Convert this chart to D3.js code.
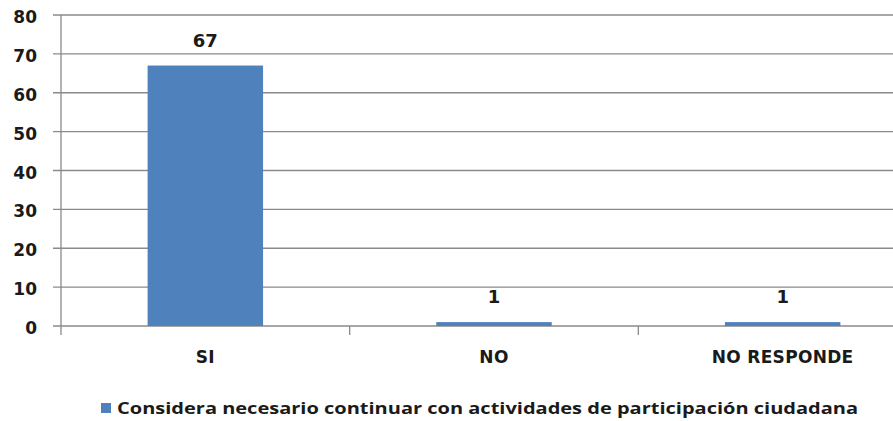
<!DOCTYPE html>
<html><head><meta charset="utf-8">
<script src="https://cdn.jsdelivr.net/npm/d3@7"></script>
<style>body{margin:0;background:#fff;overflow:hidden}</style>
</head><body>
<svg id="c" width="893" height="421"></svg>
<script>
const categories = ["SI", "NO", "NO RESPONDE"];
const values = [67, 1, 1];
const yTicks = [0, 10, 20, 30, 40, 50, 60, 70, 80];
const seriesName = "Considera necesario continuar con actividades de participación ciudadana";

const svg = d3.select("#c");
const font = "'DejaVu Sans', 'Open Sans', sans-serif";
const x = d3.scaleBand().domain(categories).range([61, 927]).paddingInner(0.6).paddingOuter(0.3);
const y = d3.scaleLinear().domain([0, 80]).range([326, 15]);
const grid = "#8a8a8a";

// gridlines
svg.append("g").selectAll("line").data(yTicks).join("line")
  .attr("x1", 53).attr("x2", 893)
  .attr("y1", d => y(d)).attr("y2", d => y(d))
  .attr("stroke", grid).attr("stroke-width", 1.3);
// y axis line
svg.append("line").attr("x1", 61).attr("x2", 61).attr("y1", 15).attr("y2", 335)
  .attr("stroke", grid).attr("stroke-width", 1.3);
// category boundary ticks
svg.append("g").selectAll("line").data(d3.range(1, categories.length + 1)).join("line")
  .attr("x1", i => 61 + i * x.step() / (1 - 0) ).attr("x2", i => 61 + i * x.step())
  .attr("y1", 326).attr("y2", 335).attr("stroke", grid).attr("stroke-width", 1.3);

// y labels
svg.append("g").selectAll("text").data(yTicks).join("text")
  .attr("x", 37).attr("y", d => y(d) + 8)
  .attr("text-anchor", "end").attr("font-family", font).attr("font-weight", "bold")
  .attr("font-size", 17).attr("fill", "#1a1a1a").text(d => d);

// bars
svg.append("g").selectAll("rect").data(values).join("rect")
  .attr("x", (d, i) => x(categories[i])).attr("width", x.bandwidth())
  .attr("y", d => y(d)).attr("height", d => y(0) - y(d))
  .attr("fill", "#4f81bd");

// value labels
svg.append("g").selectAll("text").data(values).join("text")
  .attr("x", (d, i) => x(categories[i]) + x.bandwidth() / 2)
  .attr("y", d => y(d) - 19)
  .attr("text-anchor", "middle").attr("font-family", font).attr("font-weight", "bold")
  .attr("font-size", 18).attr("fill", "#1a1a1a").text(d => d);

// category labels
svg.append("g").selectAll("text").data(categories).join("text")
  .attr("x", d => x(d) + x.bandwidth() / 2).attr("y", 363)
  .attr("text-anchor", "middle").attr("font-family", font).attr("font-weight", "bold")
  .attr("font-size", 17).attr("fill", "#1a1a1a").attr("letter-spacing", 0.3).text(d => d);

// legend
svg.append("rect").attr("x", 101).attr("y", 403).attr("width", 10).attr("height", 10).attr("fill", "#4f81bd");
svg.append("text").attr("x", 117).attr("y", 414)
  .attr("font-family", "'Open Sans', sans-serif").attr("font-weight", "bold").attr("font-size", 16)
  .attr("fill", "#1a1a1a").attr("textLength", 741).attr("lengthAdjust", "spacingAndGlyphs")
  .text(seriesName);
</script>
</body></html>
